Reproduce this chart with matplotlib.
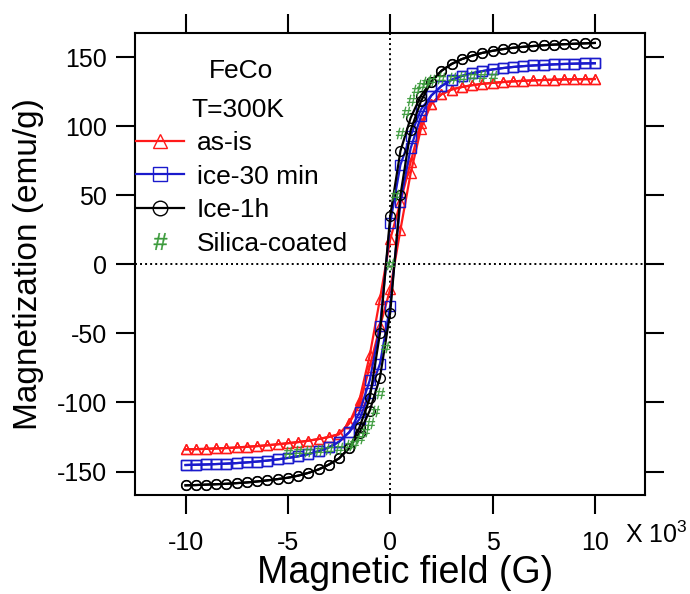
import matplotlib
matplotlib.use("Agg")
import matplotlib.pyplot as plt

plt.rcParams["font.family"] = ["Liberation Sans", "DejaVu Sans"]
plt.rcParams["mathtext.fontset"] = "custom"
plt.rcParams["mathtext.rm"] = "Liberation Sans"
plt.rcParams["axes.unicode_minus"] = False

# 磁场 (x10^3 G)，两支回线共用同一组采样点
field = [-10.0, -9.5, -9.0, -8.5, -8.0, -7.5, -7.0, -6.5, -6.0, -5.5,
         -5.0, -4.5, -4.0, -3.5, -3.0, -2.5, -2.0, -1.5, -1.0, -0.5,
         0.0, 0.5, 1.0, 1.5, 2.0, 2.5, 3.0, 3.5, 4.0, 4.5,
         5.0, 5.5, 6.0, 6.5, 7.0, 7.5, 8.0, 8.5, 9.0, 9.5, 10.0]

# as-is：下降支 / 上升支
asis_desc = [-134.0, -133.8, -133.6, -133.3, -133.0, -132.6, -132.1, -131.6, -131.0, -130.3,
             -129.5, -128.7, -127.7, -126.5, -125.0, -123.0, -115.0, -98.0, -66.0, -25.0,
             18.0, 45.0, 74.0, 102.0, 116.0, 123.0, 126.5, 128.3, 129.6, 130.6,
             131.3, 131.9, 132.4, 132.8, 133.1, 133.4, 133.6, 133.8, 133.9, 134.0, 134.1]
asis_asc = [-134.0, -133.8, -133.6, -133.3, -133.0, -132.6, -132.1, -131.6, -131.0, -130.3,
            -129.5, -128.7, -127.7, -126.5, -125.0, -123.0, -115.0, -102.0, -74.0, -45.0,
            -18.0, 25.0, 66.0, 98.0, 116.0, 123.0, 126.5, 128.3, 129.6, 130.6,
            131.3, 131.9, 132.4, 132.8, 133.1, 133.4, 133.6, 133.8, 133.9, 134.0, 134.1]

# ice-30 min
ice30_desc = [-145.3, -145.1, -144.9, -144.6, -144.3, -143.9, -143.4, -142.8, -142.1, -141.2,
              -140.2, -139.0, -137.4, -135.3, -132.5, -128.5, -121.5, -107.0, -84.0, -45.0,
              30.0, 72.0, 93.0, 112.0, 122.0, 129.0, 133.5, 136.3, 138.3, 139.8,
              141.0, 142.0, 142.8, 143.4, 143.9, 144.3, 144.7, 145.0, 145.2, 145.4, 145.5]
ice30_asc = [-145.3, -145.1, -144.9, -144.6, -144.3, -143.9, -143.4, -142.8, -142.1, -141.2,
             -140.2, -139.0, -137.4, -135.3, -132.5, -128.5, -121.5, -112.0, -93.0, -72.0,
             -30.0, 45.0, 84.0, 107.0, 122.0, 129.0, 133.5, 136.3, 138.3, 139.8,
             141.0, 142.0, 142.8, 143.4, 143.9, 144.3, 144.7, 145.0, 145.2, 145.4, 145.5]

# Ice-1h
ice1h_desc = [-160.0, -159.8, -159.5, -159.2, -158.9, -158.4, -157.9, -157.2, -156.4, -155.5,
              -154.5, -153.0, -151.0, -148.5, -145.0, -140.5, -133.0, -118.0, -97.0, -50.0,
              35.0, 82.0, 106.0, 122.0, 132.0, 140.0, 145.0, 148.5, 151.0, 153.0,
              154.5, 155.7, 156.7, 157.4, 158.0, 158.5, 159.0, 159.3, 159.6, 159.9, 160.2]
ice1h_asc = [-160.0, -159.8, -159.5, -159.2, -158.9, -158.4, -157.9, -157.2, -156.4, -155.5,
             -154.5, -153.0, -151.0, -148.5, -145.0, -140.5, -133.0, -122.0, -106.0, -82.0,
             -35.0, 50.0, 97.0, 118.0, 132.0, 140.0, 145.0, 148.5, 151.0, 153.0,
             154.5, 155.7, 156.7, 157.4, 158.0, 158.5, 159.0, 159.3, 159.6, 159.9, 160.2]

# Silica-coated：只测到 ±5
silica_field = [-5.0, -4.5, -4.0, -3.5, -3.0, -2.5, -2.0, -1.75, -1.5, -1.25,
                -1.0, -0.75, -0.5, -0.25, 0.0, 0.25, 0.5, 0.75, 1.0, 1.25,
                1.5, 1.75, 2.0, 2.5, 3.0, 3.5, 4.0, 4.5, 5.0]
silica_m = [-136.0, -135.5, -135.0, -134.5, -134.0, -133.0, -131.0, -129.0, -126.0, -121.0,
            -115.0, -106.0, -93.0, -60.0, 0.0, 50.0, 95.0, 110.0, 119.0, 126.0,
            130.0, 132.0, 133.5, 134.5, 135.0, 135.5, 136.0, 136.0, 136.5]

labels = ["as-is", "ice-30 min", "Ice-1h", "Silica-coated"]
C_RED, C_BLUE, C_BLACK, C_GREEN = "#ff1a1a", "#1a1acc", "#000000", "#3a9a3a"

fig = plt.figure(figsize=(6.9, 5.94), dpi=100)
ax = fig.add_axes([135 / 690, 1 - 495 / 594, 510 / 690, 462 / 594])

dot = (0, (1, 1.6))
ax.axhline(0, color="k", ls=dot, lw=1.4, zorder=1)
ax.axvline(0, color="k", ls=dot, lw=1.4, zorder=1)

style = dict(lw=1.6, ms=7, mew=1.0, mfc="none")
handles = []
for desc, asc, mk, c in [(asis_desc, asis_asc, "^", C_RED),
                         (ice30_desc, ice30_asc, "s", C_BLUE),
                         (ice1h_desc, ice1h_asc, "o", C_BLACK)]:
    (h,) = ax.plot(field, desc, marker=mk, color=c, zorder=2, **style)
    ax.plot(field, asc, marker=mk, color=c, zorder=2, **style)
    handles.append(h)
(hg,) = ax.plot(silica_field, silica_m, ls="none", marker="$\\#$", ms=8, mew=0.3,
                color=C_GREEN, zorder=3)
handles.append(hg)

ax.set_xlim(-12.47, 12.45)
ax.set_ylim(-167.0, 167.4)
ax.set_xticks([-10, -5, 0, 5, 10])
ax.set_yticks([-150, -100, -50, 0, 50, 100, 150])

for s in ax.spines.values():
    s.set_linewidth(1.5)
ax.tick_params(direction="out", length=14, width=1.5, top=True, right=True,
               labelsize=18)
ax.tick_params(axis="x", pad=12)
ax.tick_params(axis="y", pad=6)

ax.set_xlabel("Magnetic field (G)", fontsize=27)
ax.xaxis.set_label_coords(0.530, -0.130)
ax.set_ylabel("Magnetization (emu/g)", fontsize=24)
ax.yaxis.set_label_coords(-0.178, 0.5)

ax.text((241 - 135) / 510, (495 - 78) / 462, "FeCo", transform=ax.transAxes,
        ha="center", va="baseline", fontsize=19)
ax.text((238 - 135) / 510, (495 - 117) / 462, "T=300K", transform=ax.transAxes,
        ha="center", va="baseline", fontsize=19)

ax.legend(handles, labels, loc="upper left",
          bbox_to_anchor=(136 / 690, 1 - 131 / 594), bbox_transform=fig.transFigure,
          frameon=False, fontsize=19, handlelength=1.8, handletextpad=0.5,
          labelspacing=0.36, borderpad=0, borderaxespad=0, markerscale=1.5,
          numpoints=1)

fig.text(625 / 690, 1 - 543 / 594, "X 10$^{3}$", fontsize=18, ha="left",
         va="baseline")

fig.savefig("out.png", dpi=100)
